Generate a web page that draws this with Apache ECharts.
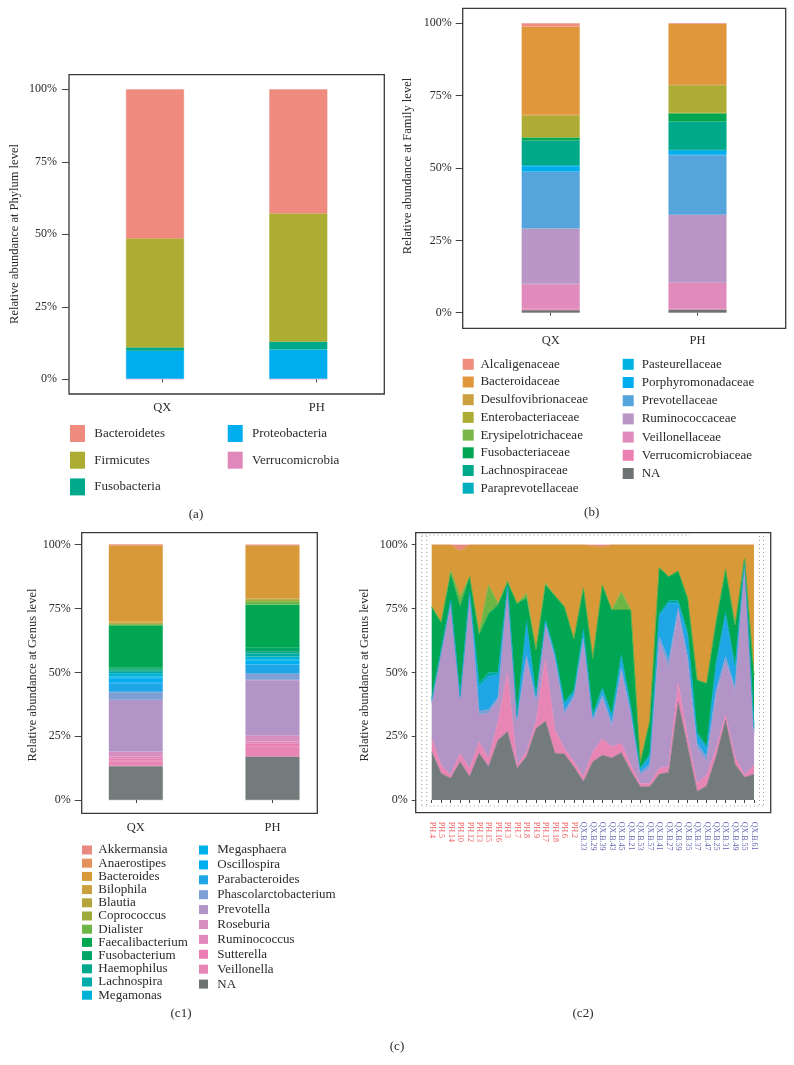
<!DOCTYPE html>
<html>
<head>
<meta charset="utf-8">
<script src="https://cdn.jsdelivr.net/npm/echarts@6/dist/echarts.min.js"></script>
<style>
html,body{margin:0;padding:0;background:#fff;}
#chart{width:794px;height:1065px;}
</style>
</head>
<body>
<div id="chart"></div>
<script>
// ---------------- DATA ----------------
const groups = ['QX', 'PH'];
const yTicks = [0, 25, 50, 75, 100];

// (a) Phylum level (legend order)
const phylumNames = ['Bacteroidetes', 'Firmicutes', 'Fusobacteria', 'Proteobacteria', 'Verrucomicrobia'];
const phylumColors = ['#EE8B7E', '#AEAD33', '#00A98B', '#00AEEF', '#E088BC'];
const phylumQX = [51.4, 37.6, 1.2, 9.6, 0.2];
const phylumPH = [42.8, 44.2, 2.7, 10.1, 0.2];

// (b) Family level (legend order)
const familyNames = ['Alcaligenaceae', 'Bacteroidaceae', 'Desulfovibrionaceae', 'Enterobacteriaceae', 'Erysipelotrichaceae',
  'Fusobacteriaceae', 'Lachnospiraceae', 'Paraprevotellaceae', 'Pasteurellaceae', 'Porphyromonadaceae',
  'Prevotellaceae', 'Ruminococcaceae', 'Veillonellaceae', 'Verrucomicrobiaceae', 'NA'];
const familyColors = ['#EE8C7D', '#E0963A', '#CCA03E', '#ADAD35', '#7AB648', '#00A651', '#00A98A', '#00AEBF',
  '#00B2E2', '#00AEEF', '#55A5DC', '#B996C6', '#E08BBB', '#EC80B3', '#6E7273'];
const familyQX = [1.2, 30.5, 0.2, 7.5, 0.1, 1.1, 8.4, 0.1, 0.2, 2.0, 19.6, 19.2, 8.6, 0.4, 0.9];
const familyPH = [0.2, 21.0, 0.1, 9.7, 0.1, 2.9, 9.8, 0.1, 0.1, 1.5, 20.6, 23.5, 8.9, 0.4, 1.1];

// (c1) Genus level (legend order)
const genusNames = ['Akkermansia', 'Anaerostipes', 'Bacteroides', 'Bilophila', 'Blautia', 'Coprococcus', 'Dialister',
  'Faecalibacterium', 'Fusobacterium', 'Haemophilus', 'Lachnospira', 'Megamonas', 'Megasphaera', 'Oscillospira',
  'Parabacteroides', 'Phascolarctobacterium', 'Prevotella', 'Roseburia', 'Ruminococcus', 'Sutterella', 'Veillonella', 'NA'];
const genusColors = ['#E98A80', '#E4925D', '#D89A38', '#CBA03E', '#B6A53B', '#9DAB3A', '#6DB646', '#00A651', '#00A668',
  '#00A98B', '#00ABAA', '#00B2D8', '#00B0E8', '#00AEEF', '#1FA6E6', '#7D9FD6', '#B394C7', '#D78EC0', '#E28ABB',
  '#EB7FB4', '#E785B5', '#737B7C'];
const genusQX = [0.1, 0.1, 30.1, 0.3, 0.2, 0.3, 0.5, 16.7, 0.8, 0.7, 0.6, 1.3, 0.5, 2.0, 3.5, 3.1, 20.3, 1.9, 0.7, 1.0, 2.0, 13.3];
const genusPH = [0.2, 0.1, 20.7, 0.2, 0.2, 0.8, 1.2, 16.8, 1.7, 0.8, 1.2, 1.0, 0.5, 1.5, 3.5, 2.6, 21.7, 2.4, 0.9, 1.0, 4.0, 17.0];

// (c2) Genus level per sample
const samples = ['PH.4', 'PH.5', 'PH.14', 'PH.10', 'PH.12', 'PH.13', 'PH.15', 'PH.16', 'PH.3', 'PH.7', 'PH.8', 'PH.9',
  'PH.17', 'PH.18', 'PH.6', 'PH.2', 'QX.B.33', 'QX.B.29', 'QX.B.39', 'QX.B.43', 'QX.B.45', 'QX.B.21', 'QX.B.53',
  'QX.B.57', 'QX.B.41', 'QX.B.27', 'QX.B.59', 'QX.B.35', 'QX.B.37', 'QX.B.47', 'QX.B.25', 'QX.B.31', 'QX.B.49',
  'QX.B.55', 'QX.B.61'];
const c2NA = [18.9, 10.4, 8.5, 15.0, 9.1, 18.3, 13.1, 23.5, 26.8, 12.4, 17.0, 28.0, 30.9, 18.3, 18.0, 13.0, 7.2, 15.0,
  17.5, 16.5, 18.5, 11.5, 5.2, 5.2, 10.1, 10.8, 38.3, 21.0, 3.3, 5.5, 17.0, 31.3, 14.0, 8.9, 10.1];
const c2Veillonella = [5.3, 3.3, 1.3, 3.3, 3.3, 4.5, 3.2, 7.2, 23.2, 1.3, 1.9, 2.7, 24.1, 9.2, 2.2, 2.0, 1.9, 3.9, 6.5,
  4.4, 3.7, 2.2, 1.3, 1.3, 2.3, 2.3, 7.7, 3.5, 3.2, 4.3, 3.2, 2.0, 3.0, 0.9, 3.7];
const c2Prevotella = [13.7, 43.7, 67.2, 20.9, 67.9, 10.5, 17.6, 8.5, 33.5, 17.0, 35.9, 7.8, 13.5, 27.5, 13.1, 25.0, 52.9,
  11.8, 15.8, 7.8, 28.1, 19.6, 3.3, 5.9, 49.6, 38.5, 27.8, 29.7, 13.7, 5.2, 20.9, 20.9, 25.4, 83.7, 11.7];
const c2Phascolarctobacterium = [0.6, 0.5, 0.5, 0.6, 0.5, 1.5, 1.5, 1.0, 0.2, 0.8, 2.0, 1.0, 0.7, 1.0, 1.5, 1.0, 1.5, 0.9,
  1.3, 1.5, 1.5, 1.0, 1.0, 1.6, 2.0, 3.0, 1.3, 2.0, 2.0, 2.0, 2.0, 2.0, 2.0, 0.2, 1.0];
const c2Parabacteroides = [0.7, 0.6, 0.5, 0.7, 0.5, 9.6, 12.9, 8.8, 0.3, 1.0, 12.4, 1.0, 0.8, 1.0, 2.7, 1.0, 2.5, 1.0,
  2.0, 2.4, 4.3, 1.6, 1.0, 3.0, 8.0, 22.4, 2.0, 8.4, 3.3, 3.2, 9.8, 16.3, 7.2, 0.3, 1.6];
const c2Lachnospira = [0.5, 0.5, 0.5, 0.5, 0.5, 1.5, 1.5, 1.0, 0.2, 0.8, 1.0, 0.8, 0.7, 1.0, 1.0, 1.0, 1.0, 1.0, 1.0,
  1.0, 1.0, 1.0, 0.7, 1.0, 1.0, 1.0, 1.0, 1.0, 1.0, 1.0, 1.0, 1.0, 1.0, 0.2, 1.0];
const c2Faecalibacterium = [36.0, 10.5, 10.0, 34.7, 5.7, 18.7, 23.2, 26.5, 1.0, 43.7, 8.8, 17.5, 13.5, 22.0, 37.2, 20.0,
  16.0, 21.9, 40.1, 40.8, 17.3, 37.5, 2.0, 13.0, 18.0, 9.5, 11.6, 13.4, 20.5, 24.5, 15.9, 16.8, 15.9, 0.3, 19.9];
const c2Dialister = [0, 0, 1.5, 3.9, 0, 0.9, 11.2, 0.5, 0.6, 0, 1.9, 0, 0.8, 0, 0, 0, 0, 0, 0, 0, 7.2, 0, 0, 0, 0, 0, 0,
  0, 0, 0, 0, 0, 0, 0, 0];
const c2Bacteroides = [24.3, 30.5, 10.0, 17.9, 12.5, 34.5, 15.8, 23.0, 14.2, 23.0, 19.1, 41.2, 15.0, 20.0, 24.3, 37.0,
  17.0, 44.0, 14.8, 25.6, 18.4, 25.6, 85.5, 69.0, 9.0, 12.5, 10.3, 21.0, 53.0, 54.3, 30.2, 9.7, 31.5, 5.5, 51.0];
const c2Akkermansia = [0, 0, 0, 2.5, 0, 0, 0, 0, 0, 0, 0, 0, 0, 0, 0, 0, 0, 0.5, 1.0, 0, 0, 0, 0, 0, 0, 0, 0, 0, 0, 0,
  0, 0, 0, 0, 0];

// ---------------- STYLE ----------------
const FONT = 'Liberation Serif';
const TXT = '#2a2a2a';

function genusColor(n) { return genusColors[genusNames.indexOf(n)]; }

function valueY(gridIndex, offset, tickLen, margin, hidden) {
  return {
    type: 'value', gridIndex: gridIndex, min: 0, max: 100, interval: 25, offset: offset, show: !hidden,
    axisLine: { show: false },
    axisTick: { show: true, inside: false, length: tickLen, lineStyle: { color: '#444', width: 1 } },
    axisLabel: { formatter: '{value}%', fontFamily: FONT, fontSize: 12, color: TXT, margin: margin },
    splitLine: { show: false }
  };
}
function catX(gridIndex, data, offset, margin, show) {
  return {
    type: 'category', gridIndex: gridIndex, data: data, offset: offset, show: show,
    axisLine: { show: false },
    axisTick: { show: true, alignWithLabel: true, length: 3, lineStyle: { color: '#444' } },
    axisLabel: { fontFamily: FONT, fontSize: 12.5, color: TXT, margin: margin }
  };
}
function barItem(col) {
  return { color: col, borderColor: col, borderWidth: 0.4 };
}

const series = [];
// (a) bars: bottom of stack = last legend item
for (let k = phylumNames.length - 1; k >= 0; k--) {
  series.push({ type: 'bar', name: phylumNames[k], xAxisIndex: 0, yAxisIndex: 0, stack: 'a', barWidth: 58,
    itemStyle: barItem(phylumColors[k]), data: [phylumQX[k], phylumPH[k]] });
}
// (b)
for (let k = familyNames.length - 1; k >= 0; k--) {
  series.push({ type: 'bar', name: familyNames[k], xAxisIndex: 2, yAxisIndex: 2, stack: 'b', barWidth: 58,
    itemStyle: barItem(familyColors[k]), data: [familyQX[k], familyPH[k]] });
}
// (c1)
for (let k = genusNames.length - 1; k >= 0; k--) {
  series.push({ type: 'bar', name: genusNames[k], xAxisIndex: 3, yAxisIndex: 3, stack: 'c1', barWidth: 54,
    itemStyle: barItem(genusColors[k]), data: [genusQX[k], genusPH[k]] });
}
// (c2) stacked areas, bottom to top
const c2Layers = [
  ['NA', c2NA], ['Veillonella', c2Veillonella], ['Prevotella', c2Prevotella],
  ['Phascolarctobacterium', c2Phascolarctobacterium], ['Parabacteroides', c2Parabacteroides],
  ['Lachnospira', c2Lachnospira], ['Faecalibacterium', c2Faecalibacterium], ['Dialister', c2Dialister],
  ['Bacteroides', c2Bacteroides], ['Akkermansia', c2Akkermansia]
];
c2Layers.forEach(function (l) {
  const col = genusColor(l[0]);
  series.push({ type: 'line', name: l[0], xAxisIndex: 4, yAxisIndex: 4, stack: 'c2', symbol: 'none', smooth: false,
    lineStyle: { width: 0.6, color: col }, itemStyle: { color: col }, areaStyle: { color: col, opacity: 1 },
    data: l[1] });
});

function legendBlock(names, left, top, iw, ih, gap, pad, lh) {
  return {
    data: names, orient: 'vertical', left: left, top: top, padding: 0, itemGap: gap,
    itemWidth: iw, itemHeight: ih, icon: 'rect', selectedMode: false,
    itemStyle: { borderWidth: 0 },
    textStyle: { fontFamily: FONT, fontSize: 13, color: TXT, padding: [0, 0, 0, pad], lineHeight: lh }
  };
}

function vTitle(text, x, y) {
  return { type: 'text', x: x, y: y, rotation: Math.PI / 2,
    style: { text: text, fontFamily: FONT, fontSize: 12.5, fill: TXT, textAlign: 'center', textVerticalAlign: 'middle' } };
}
function caption(text, x, y) {
  return { type: 'text', x: x, y: y,
    style: { text: text, fontFamily: FONT, fontSize: 13, fill: TXT, textAlign: 'center', textVerticalAlign: 'middle' } };
}
function frame(x, y, w, h) {
  return { type: 'rect', shape: { x: x, y: y, width: w, height: h }, z: 10,
    style: { fill: 'none', stroke: '#3a3a3a', lineWidth: 1.3 } };
}
function dots(x1, y1, x2, y2) {
  return { type: 'line', shape: { x1: x1, y1: y1, x2: x2, y2: y2 }, z: -1,
    style: { stroke: '#9a9a9a', lineWidth: 1, lineDash: [1, 3] } };
}

const option = {
  animation: false,
  backgroundColor: '#ffffff',
  grid: [
    { left: 83.35, top: 89.3, width: 286.6, height: 290 },
    { left: 85.1, top: 89.3, width: 308.8, height: 290 },
    { left: 477.3, top: 23.3, width: 293.6, height: 289.4 },
    { left: 67.45, top: 544.7, width: 273.4, height: 255.3 },
    { left: 431.7, top: 544.7, width: 322.3, height: 255.3 }
  ],
  xAxis: [
    catX(0, groups, 14.7, 7, false),
    catX(1, groups, 14.7, 7, true),
    catX(2, groups, 15.6, 6, true),
    catX(3, groups, 13.3, 8, true),
    {
      type: 'category', gridIndex: 4, data: samples, boundaryGap: false, offset: 12.7,
      axisLine: { show: false },
      axisTick: { show: true, interval: 0, length: 3, lineStyle: { color: '#444' } },
      axisLabel: { interval: 0, rotate: -90, fontFamily: FONT, fontSize: 8, margin: 9,
        color: function (v) { return v.indexOf('PH') === 0 ? '#EE5A5A' : '#6468B0'; } }
    }
  ],
  yAxis: [
    valueY(0, 14.35, 7, 12, false),
    valueY(1, 0, 0, 0, true),
    valueY(2, 14.6, 7, 11, false),
    valueY(3, -14.25, 7, 11, false),
    valueY(4, 16, 4, 8, false)
  ],
  legend: [
    legendBlock(phylumNames.slice(0, 3), 70, 425, 15, 17, 9.7, 4.3, 14),
    legendBlock(phylumNames.slice(3), 227.7, 425, 15, 17, 9.7, 4.3, 14),
    legendBlock(familyNames.slice(0, 8), 462.7, 357.3, 11, 11, 3.7, 1.7, 14),
    legendBlock(familyNames.slice(8), 622.7, 357.3, 11, 11, 4.2, 3, 14),
    legendBlock(genusNames.slice(0, 12), 82, 843.5, 10, 9, 0.2, 1.3, 13),
    legendBlock(genusNames.slice(12), 199, 843.5, 9, 9, 1.9, 4.3, 13)
  ],
  graphic: [
    frame(69, 74.7, 315.3, 319.3),
    frame(462.7, 8.3, 323, 320),
    frame(81.7, 532.7, 235.6, 280.6),
    frame(415.7, 532.7, 355, 280),
    dots(421.7, 536, 421.7, 806), dots(426.7, 536, 426.7, 806),
    dots(759.5, 536, 759.5, 806), dots(763.5, 536, 763.5, 806),
    dots(421.7, 535, 690, 535), dots(421.7, 806, 764, 806),
    vTitle('Relative abundance at Phylum level', 15, 234),
    vTitle('Relative abundance at Family level', 408, 166),
    vTitle('Relative abundance at Genus level', 32.5, 675),
    vTitle('Relative abundance at Genus level', 365, 675),
    caption('(a)', 196, 515),
    caption('(b)', 591.7, 512.7),
    caption('(c1)', 181, 1014),
    caption('(c2)', 583, 1014),
    caption('(c)', 397, 1047)
  ],
  series: series
};

const chart = echarts.init(document.getElementById('chart'), null, { renderer: 'canvas' });
chart.setOption(option);
</script>
</body>
</html>
